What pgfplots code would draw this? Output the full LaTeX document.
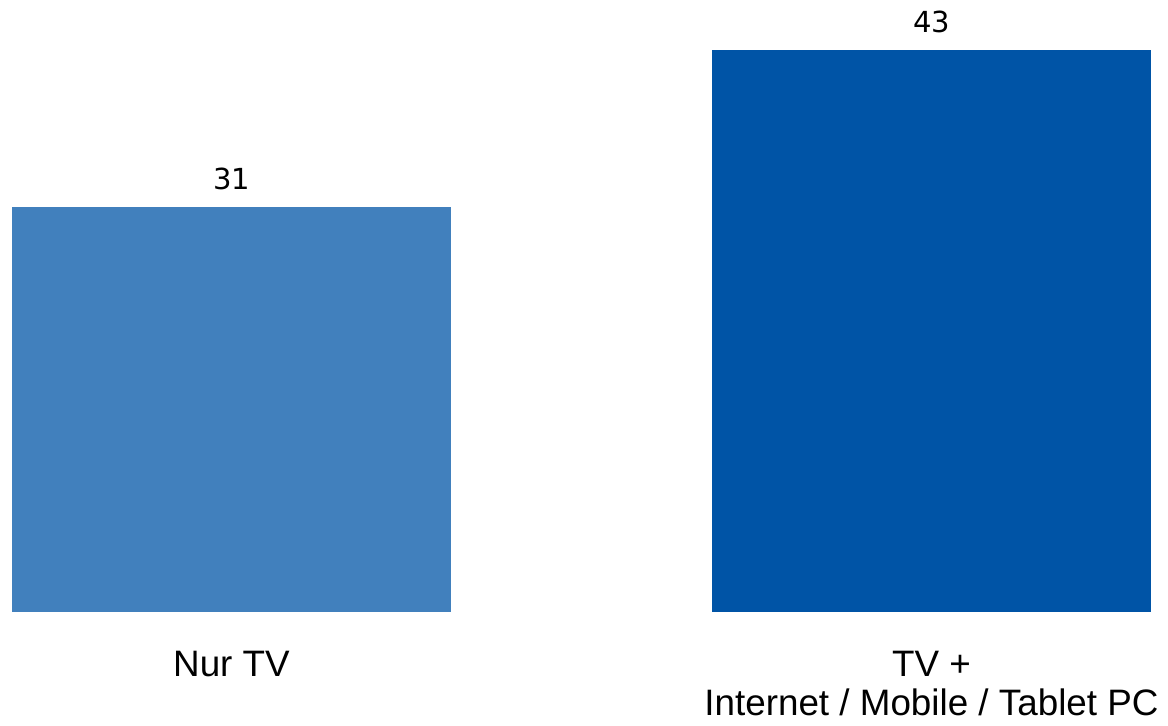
\documentclass[border=0pt]{standalone}
\usepackage{fontspec}
\setmainfont{Liberation Sans}
\newfontfamily\dejavu{DejaVu Sans}
\usepackage{pgfplots}
\pgfplotsset{compat=1.18}
\definecolor{barA}{RGB}{65,128,189}
\definecolor{barB}{RGB}{0,84,166}
\begin{document}
\begin{tikzpicture}
\begin{axis}[
  name=ax,
  scale only axis,
  width=584pt, height=306pt,
  xmin=-0.3307, xmax=1.3379,
  ymin=0, ymax=46.83,
  axis line style={draw=none},
  major tick length=0pt,
  ytick=\empty,
  xtick={0,1},
  xticklabels={Nur TV, {TV +\\Internet / Mobile / Tablet PC}},
  xticklabel style={font=\fontsize{18.4}{19.6}\selectfont, align=center, anchor=north, inner sep=0pt, yshift=-19.5pt},
  ybar, bar width=219.5pt, bar shift=0pt,
  nodes near coords,
  nodes near coords style={font=\dejavu\fontsize{14.5}{17}\selectfont, inner sep=0pt, anchor=south, yshift=8.5pt, text=black, /pgf/number format/assume math mode=true},
  clip=false,
]
\addplot[fill=barA, draw=none] coordinates {(0,31)};
\addplot[fill=barB, draw=none] coordinates {(1,43)};
\end{axis}
\pgfresetboundingbox
\path[use as bounding box] (ax.north west) rectangle ([yshift=-57pt]ax.south east);
\end{tikzpicture}
\end{document}
